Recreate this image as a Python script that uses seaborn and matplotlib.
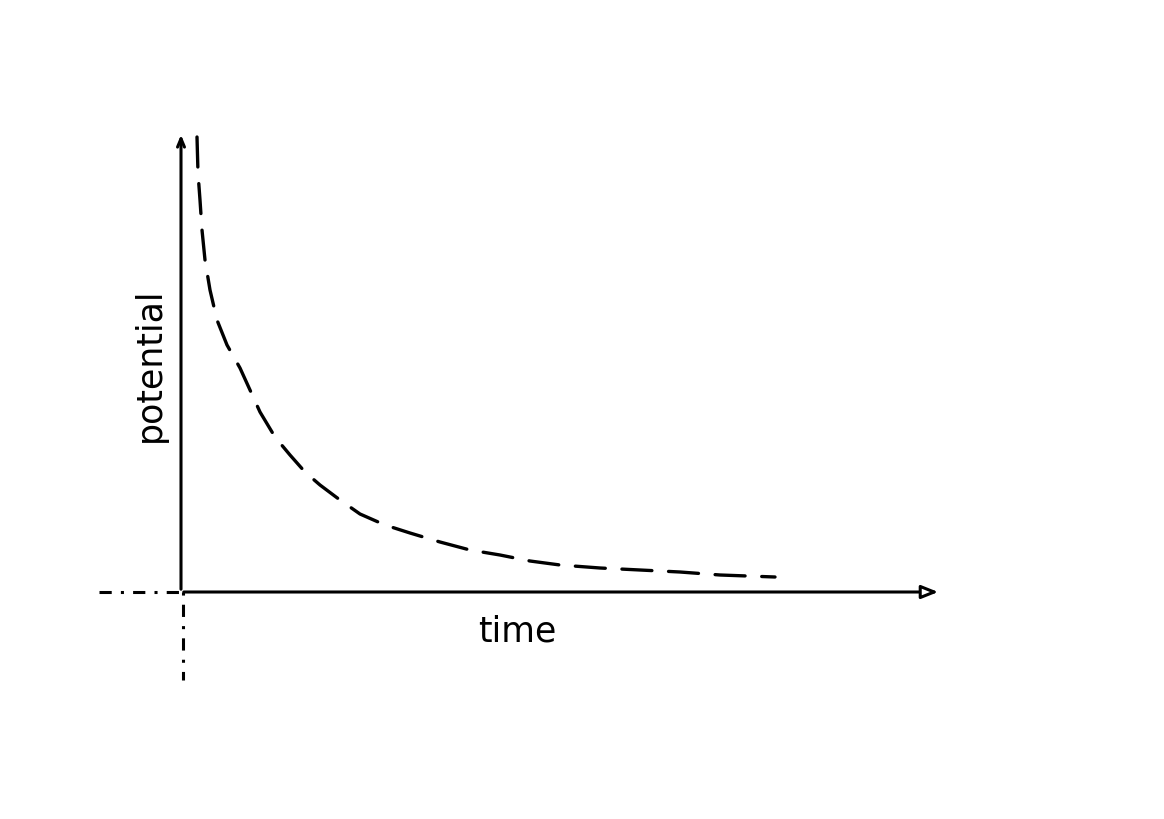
import matplotlib
matplotlib.use("Agg")
import matplotlib.pyplot as plt
import numpy as np
import pandas as pd
import seaborn as sns

# Decay curve (time, potential), arbitrary units
time = [0.16, 0.17, 0.19, 0.21, 0.24, 0.29, 0.36, 0.46, 0.59, 0.69, 0.79,
        0.94, 1.09, 1.24, 1.39, 1.59, 1.79, 2.04, 2.29, 2.59, 2.89, 3.19,
        3.49, 3.79, 4.19, 4.59, 4.99, 5.39, 5.94]
potential = [4.55, 4.19, 3.92, 3.62, 3.32, 3.02, 2.72, 2.47, 2.24, 2.02, 1.80,
             1.55, 1.37, 1.20, 1.07, 0.92, 0.78, 0.67, 0.59, 0.50, 0.42, 0.37,
             0.31, 0.27, 0.24, 0.22, 0.20, 0.17, 0.15]

x_label = "time"
y_label = "potential"

# axis extents
t_end = 7.6
v_end = 4.6
t_neg = -0.82
v_neg = -0.88

sns.set_style("white")
plt.rcParams['font.family'] = ['DejaVu Sans']

fig = plt.figure(figsize=(11.64, 8.19), dpi=100)
ax = fig.add_axes([0, 0, 1, 1])
ax.set_xlim(-1.81, 9.83)
ax.set_ylim(-2.27, 5.92)
ax.axis('off')

df = pd.DataFrame({"time": time, "potential": potential})
sns.lineplot(data=df, x="time", y="potential", ax=ax, color="black",
             linewidth=2.4, sort=False, estimator=None)
curve = ax.lines[-1]
curve.set_dashes((9, 5))
curve.set_dash_capstyle('round')

# axes drawn as arrows
ax.annotate('', xy=(t_end, 0), xytext=(0, 0),
            arrowprops=dict(arrowstyle='-|>,head_length=1.0,head_width=0.4',
                            lw=2.2, color='black', fc='white'))
ax.annotate('', xy=(0, v_end), xytext=(0, 0),
            arrowprops=dict(arrowstyle='->,head_length=0.6,head_width=0.25',
                            lw=2.2, color='black'))

# dash-dot extensions through the origin
ax.plot([t_neg, 0], [0, 0], color='black', lw=2.2,
        linestyle=(0, (4, 3, 1, 3)))
ax.plot([0.02, 0.02], [0, v_neg], color='black', lw=2.2,
        linestyle=(0, (1, 3, 4, 3)))

ax.text(3.36, -0.40, x_label, fontsize=25, ha='center', va='center',
        color='black')
ax.text(-0.31, 2.27, y_label, fontsize=25, ha='center', va='center',
        rotation=90, color='black')

plt.savefig('out.png', dpi=100)
